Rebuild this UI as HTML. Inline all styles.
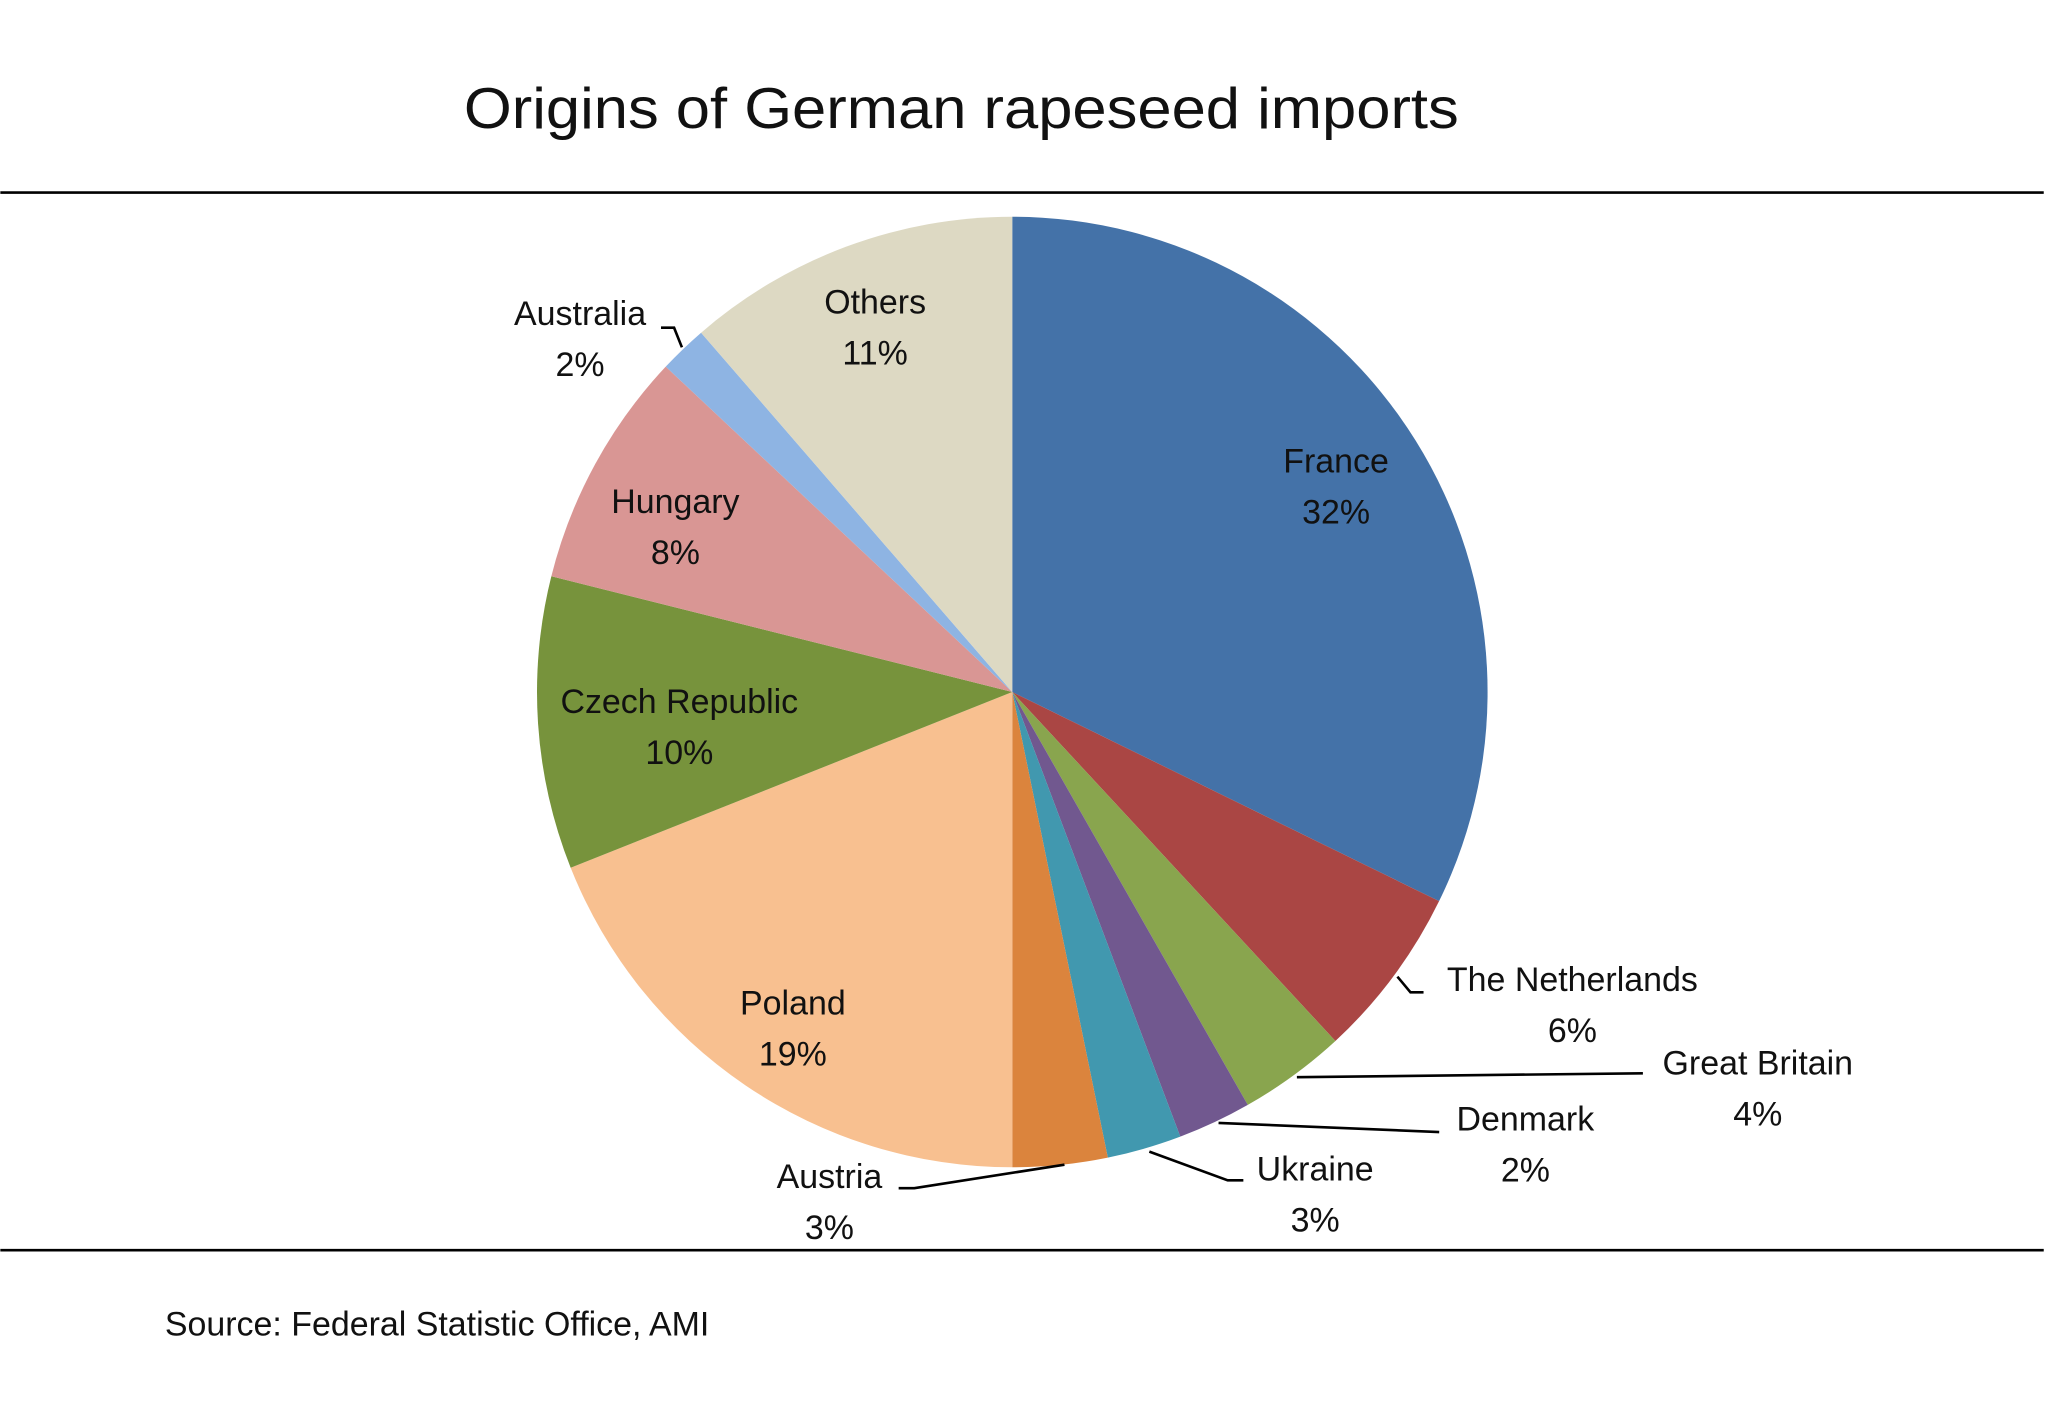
<!DOCTYPE html>
<html><head><meta charset="utf-8"><style>
html,body{margin:0;padding:0;background:#fff;}
svg{display:block;}
text{font-family:"Liberation Sans",sans-serif;fill:#111;}
</style></head><body>
<svg width="2048" height="1401" viewBox="0 0 1568 1073" xmlns="http://www.w3.org/2000/svg">
<rect width="1568" height="1073" fill="#fff"/>
<text x="355" y="98" font-size="44" textLength="762" lengthAdjust="spacingAndGlyphs">Origins of German rapeseed imports</text>
<line x1="0" y1="147.5" x2="1565" y2="147.5" stroke="#000" stroke-width="2"/>
<line x1="0" y1="957.5" x2="1565" y2="957.5" stroke="#000" stroke-width="2"/>
<g stroke="none">
<path d="M775,530 L775,166 A364,364 0 0 1 1101.9,690.2 Z" fill="#4472a8"/>
<path d="M775,530 L1101.9,690.2 A364,364 0 0 1 1022.5,797.3 Z" fill="#aa4644"/>
<path d="M775,530 L1022.5,797.3 A364,364 0 0 1 955.4,846.2 Z" fill="#89a54e"/>
<path d="M775,530 L955.4,846.2 A364,364 0 0 1 903.7,870.5 Z" fill="#71588f"/>
<path d="M775,530 L903.7,870.5 A364,364 0 0 1 848.2,886.6 Z" fill="#4198af"/>
<path d="M775,530 L848.2,886.6 A364,364 0 0 1 775,894 Z" fill="#db843d"/>
<path d="M775,530 L775,894 A364,364 0 0 1 436.8,664.6 Z" fill="#f8c090"/>
<path d="M775,530 L436.8,664.6 A364,364 0 0 1 422.0,441.3 Z" fill="#77933c"/>
<path d="M775,530 L422.0,441.3 A364,364 0 0 1 509.6,280.8 Z" fill="#d99694"/>
<path d="M775,530 L509.6,280.8 A364,364 0 0 1 536.7,254.8 Z" fill="#8eb4e3"/>
<path d="M775,530 L536.7,254.8 A364,364 0 0 1 775,166 Z" fill="#ddd9c3"/>
</g>
<g stroke="#000" stroke-width="2" fill="none">
<polyline points="1070,748 1080,760 1090,760"/>
<polyline points="993,825 1258,822"/>
<polyline points="933,860 1102,867"/>
<polyline points="880,882 940,904 952,904"/>
<polyline points="815,892 700,910 688,910"/>
<polyline points="522,266 516,251 506,251"/>
</g>
<g font-size="26" text-anchor="middle">
<text x="1023" y="362">France</text><text x="1023" y="401">32%</text>
<text x="1204" y="759">The Netherlands</text><text x="1204" y="798">6%</text>
<text x="1346" y="823">Great Britain</text><text x="1346" y="862">4%</text>
<text x="1168" y="866">Denmark</text><text x="1168" y="905">2%</text>
<text x="1007" y="904">Ukraine</text><text x="1007" y="943">3%</text>
<text x="635" y="910">Austria</text><text x="635" y="949">3%</text>
<text x="607" y="777">Poland</text><text x="607" y="816">19%</text>
<text x="520" y="546">Czech Republic</text><text x="520" y="585">10%</text>
<text x="517" y="393">Hungary</text><text x="517" y="432">8%</text>
<text x="444" y="249">Australia</text><text x="444" y="288">2%</text>
<text x="670" y="240">Others</text><text x="670" y="279">11%</text>
</g>
<text x="126" y="1023" font-size="26">Source: Federal Statistic Office, AMI</text>
</svg>
</body></html>
